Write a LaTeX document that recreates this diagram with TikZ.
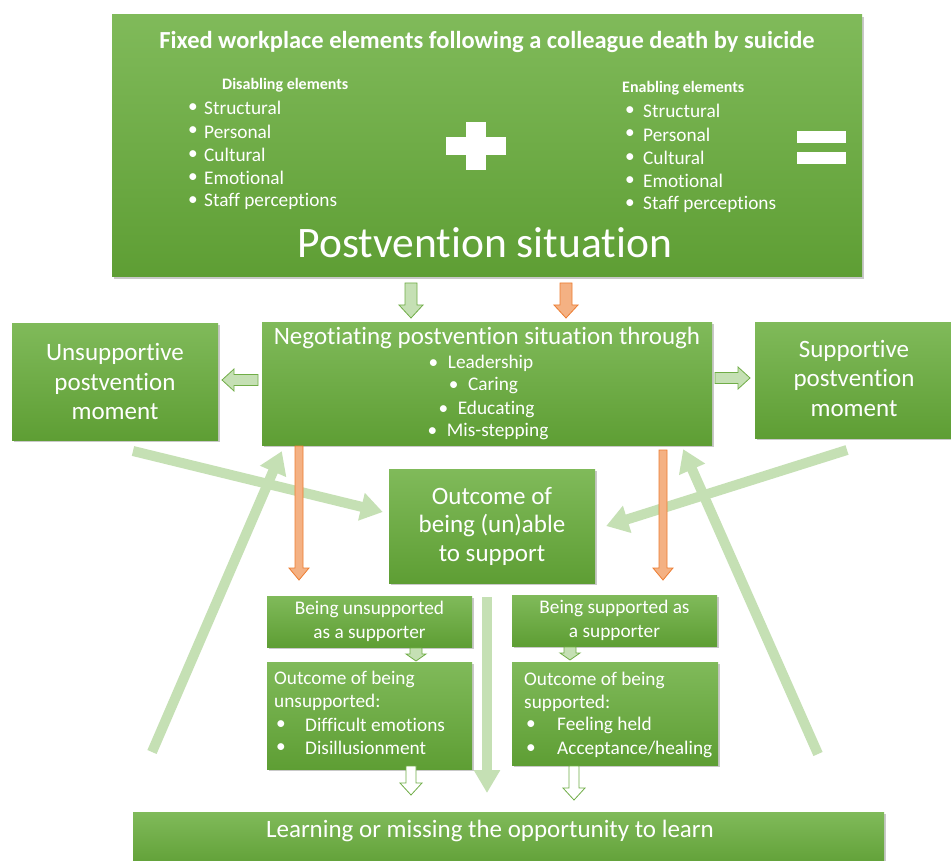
\documentclass[tikz,border=0pt]{standalone}
\usepackage{fontspec}
\setmainfont{Carlito}[Ligatures=NoCommon]
\usetikzlibrary{shadows,arrows.meta,calc}
\definecolor{boxtop}{RGB}{128,186,90}
\definecolor{boxbot}{RGB}{94,158,52}
\definecolor{lgreen}{RGB}{197,224,180}
\definecolor{dgreen}{RGB}{112,173,71}
\definecolor{lorange}{RGB}{244,177,131}
\definecolor{dorange}{RGB}{237,125,49}
% vertical block arrow: [style]{x}{ystart}{ytip}{shaft}{head}{signed headlen}
\newcommand\varrow[7][]{\draw[#1] ({#2-#5/2},#3) -- ({#2+#5/2},#3) -- ({#2+#5/2},{#4-#7}) -- ({#2+#6/2},{#4-#7}) -- (#2,#4) -- ({#2-#6/2},{#4-#7}) -- ({#2-#5/2},{#4-#7}) -- cycle;}
\newcommand\harrow[7][]{\draw[#1] (#3,{#2-#5/2}) -- (#3,{#2+#5/2}) -- ({#4-#7},{#2+#5/2}) -- ({#4-#7},{#2+#6/2}) -- (#4,#2) -- ({#4-#7},{#2-#6/2}) -- ({#4-#7},{#2-#5/2}) -- cycle;}
\begin{document}
\begin{tikzpicture}[x=1pt,y=-1pt,
  gbox/.style={rectangle, inner sep=0pt, top color=boxtop, bottom color=boxbot, draw=none,
    drop shadow={opacity=0.35, shadow xshift=1.5pt, shadow yshift=-2pt, fill=black!60}},
  wt/.style={text=white, inner sep=0pt},
  fs/.style={font=\fontsize{19.3}{22}\selectfont},
  fm/.style={font=\fontsize{25}{29}\selectfont},
  ga/.style={draw=dgreen, fill=lgreen, line width=0.8pt},
  oa/.style={draw=dorange, fill=lorange, line width=0.8pt},
  bigarrow/.style={draw=lgreen, line width=10pt, -{Triangle[length=22pt,width=27pt]}}]
\useasboundingbox (0,0) rectangle (951,861);
\fill[white] (0,0) rectangle (951,861);

\coordinate (uStart) at (133,451);
\coordinate (sStart) at (847,450);
\coordinate (luStart) at (152,752);
\coordinate (ruStart) at (818,754);
\coordinate (cStart) at (487,597);

% ---------- boxes ----------
\node[gbox, minimum width=750pt, minimum height=262pt] (top) at (487,146) {};
\node[gbox, minimum width=450pt, minimum height=123pt] (neg) at (487,383.5) {};
\node[gbox, minimum width=206pt, minimum height=117pt] (unsup) at (115,381.5) {};
\node[gbox, minimum width=200pt, minimum height=116pt] (sup) at (855,380) {};
\node[gbox, minimum width=206pt, minimum height=114pt] (outc) at (492,526) {};
\node[gbox, minimum width=205pt, minimum height=51pt] (bu) at (369.5,621.5) {};
\node[gbox, minimum width=205pt, minimum height=51pt] (bs) at (614.5,620.5) {};
\node[gbox, minimum width=205pt, minimum height=107pt] (ou) at (369.5,715.5) {};
\node[gbox, minimum width=206pt, minimum height=103pt] (os) at (615,713.5) {};
\node[gbox, minimum width=751pt, minimum height=58pt] (learn) at (508.5,841) {};

% ---------- big light arrows ----------
\draw[bigarrow] (uStart) -- ($(outc.west)+(-6,-14)$);
\draw[bigarrow] (sStart) -- ($(outc.east)+(11,0)$);
\draw[bigarrow] (luStart) -- ($(neg.south west)+(20,6)$);
\draw[bigarrow] (ruStart) -- ($(neg.south east)+(-29,4)$);
\draw[draw=lgreen, line width=10pt, -{Triangle[length=23pt,width=25pt]}] (cStart) -- (487,793);

% ---------- block arrows ----------
\varrow[ga]{411}{283}{318}{12}{24}{13}
\varrow[oa]{566}{283}{318}{12}{24}{13}
\harrow[ga]{380}{258}{222}{11}{22}{-12}
\harrow[ga]{378}{715}{750}{11}{22}{12}
\varrow[oa]{299}{446}{580}{8}{20}{12}
\varrow[oa]{663}{450}{580}{8}{20}{12}
\varrow[ga]{416}{648}{661}{12}{20}{7}
\varrow[ga]{570}{647}{660}{12}{20}{7}
\varrow[draw=dgreen, fill=white, line width=0.8pt]{411}{766}{795}{10}{22}{12}
\varrow[draw=dgreen, fill=white, line width=0.8pt]{574}{766}{800}{10}{22}{12}

% ---------- texts: top box ----------
\node[wt, font=\bfseries\fontsize{24.5}{28}\selectfont] (title) at (487,42) {Fixed workplace elements following a colleague death by suicide};
\node[wt, anchor=west, font=\bfseries\fontsize{16}{20}\selectfont] (dis) at (222,85) {Disabling elements};
\node[wt, anchor=west, font=\bfseries\fontsize{16}{20}\selectfont] (ena) at (622,88) {Enabling elements};
\foreach \t [count=\i] in {Structural,Personal,Cultural,Emotional,Staff perceptions}{
  \node[wt, anchor=west, fs] (d\i) at (188,{85+23.2*\i}) {•};
  \node[wt, anchor=west, fs] (dt\i) at (204,{85+23.2*\i}) {\t};
  \node[wt, anchor=west, fs] (e\i) at (625,{88+23.2*\i}) {•};
  \node[wt, anchor=west, fs] (et\i) at (643,{88+23.2*\i}) {\t};
}
\fill[white] (446,137) rectangle (506,155);
\fill[white] (466,122) rectangle (486,170);
\fill[white] (797,131) rectangle (846,143);
\fill[white] (797,152) rectangle (846,164);
\node[wt, font=\fontsize{43.5}{50}\selectfont] (ps) at (485,243) {Postvention situation};

% ---------- negotiating ----------
\node[wt, fm] (negt) at (487,338) {Negotiating postvention situation through};
\node[wt, fs] at (481,363) {•\enspace Leadership};
\node[wt, fs] at (483.5,386) {•\enspace Caring};
\node[wt, fs] at (486.5,409) {•\enspace Educating};
\node[wt, fs] at (488,432) {•\enspace Mis-stepping};

% ---------- side boxes ----------
\node[wt, align=center, font=\fontsize{25}{29.5}\selectfont] at (unsup) {Unsupportive\\postvention\\moment};
\node[wt, align=center, font=\fontsize{25}{29.5}\selectfont] at (854,378) {Supportive\\postvention\\moment};
\node[wt, align=center, font=\fontsize{25}{28.5}\selectfont] at (outc) {Outcome of\\being (un)able\\to support};

% ---------- lower boxes ----------
\node[wt, align=center, font=\fontsize{19.3}{23.5}\selectfont] at (bu) {Being unsupported\\as a supporter};
\node[wt, align=center, font=\fontsize{19.3}{23.5}\selectfont] at (bs) {Being supported as\\a supporter};
\node[wt, anchor=west, fs] at (274,679) {Outcome of being};
\node[wt, anchor=west, fs] at (274,702) {unsupported:};
\node[wt, anchor=west, fs] at (276,725) {•};
\node[wt, anchor=west, fs] at (305,725) {Difficult emotions};
\node[wt, anchor=west, fs] at (276,748) {•};
\node[wt, anchor=west, fs] at (305,748) {Disillusionment};
\node[wt, anchor=west, fs] at (524,680) {Outcome of being};
\node[wt, anchor=west, fs] at (524,703) {supported:};
\node[wt, anchor=west, fs] at (526,725) {•};
\node[wt, anchor=west, fs] at (557,725) {Feeling held};
\node[wt, anchor=west, fs] at (526,749) {•};
\node[wt, anchor=west, fs] at (557,749) {Acceptance/healing};

\node[wt, fm] at (490,831) {Learning or missing the opportunity to learn};
\end{tikzpicture}
\end{document}
